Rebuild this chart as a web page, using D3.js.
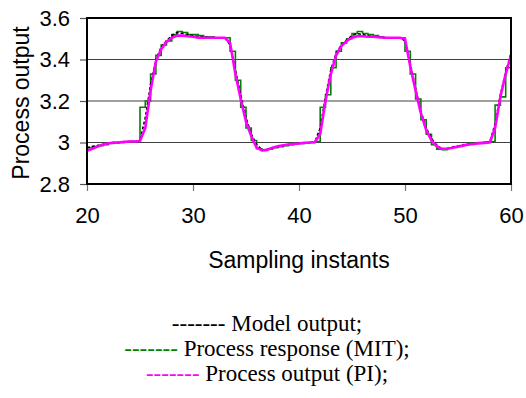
<!DOCTYPE html>
<html>
<head>
<meta charset="utf-8">
<script src="https://cdn.jsdelivr.net/npm/d3@7"></script>
<style>
  html, body { margin: 0; padding: 0; background: #fff; }
  svg { display: block; }
</style>
</head>
<body>
<svg id="chart" width="526" height="398"></svg>
<script>
// Sampling instants, half-step resolution from 20 to 60
const instants = d3.range(20, 60.001, 0.5);

// Model output
const modelOutput = [
  2.975, 2.98, 2.985, 2.99, 2.995, 3.0, 3.0, 3.003, 3.005, 3.005,
  3.01, 3.12, 3.28, 3.40, 3.46, 3.49, 3.515, 3.53, 3.525, 3.52,
  3.515, 3.51, 3.51, 3.505, 3.505, 3.505, 3.505, 3.47, 3.35, 3.23,
  3.12, 3.04, 2.99, 2.965, 2.965, 2.975, 2.98, 2.985, 2.99, 2.993,
  2.996, 2.998, 3.0, 3.003, 3.07, 3.22, 3.35, 3.43, 3.47, 3.495,
  3.515, 3.525, 3.52, 3.515, 3.51, 3.508, 3.505, 3.505, 3.505, 3.505,
  3.49, 3.38, 3.26, 3.15, 3.07, 3.02, 2.985, 2.97, 2.97, 2.978,
  2.983, 2.988, 2.992, 2.995, 2.998, 3.0, 3.002, 3.09, 3.23, 3.34,
  3.43
];

// Process response under MIT-rule adaptation (held between samples)
const processMIT = [
  2.975, 2.98, 2.985, 2.99, 2.995, 2.998, 3.0, 3.002, 3.004, 3.005,
  3.17, 3.20, 3.33, 3.42, 3.47, 3.49, 3.52, 3.535, 3.53, 3.52,
  3.52, 3.515, 3.51, 3.51, 3.505, 3.505, 3.505, 3.44, 3.30, 3.17,
  3.07, 3.01, 2.97, 2.962, 2.968, 2.975, 2.98, 2.985, 2.99, 2.995,
  2.995, 2.998, 3.0, 3.005, 3.17, 3.23, 3.36, 3.44, 3.48, 3.50,
  3.525, 3.535, 3.525, 3.52, 3.515, 3.51, 3.505, 3.505, 3.505, 3.505,
  3.44, 3.33, 3.21, 3.11, 3.04, 2.99, 2.968, 2.965, 2.972, 2.978,
  2.984, 2.99, 2.995, 2.998, 3.0, 3.002, 3.005, 3.18, 3.22, 3.36,
  3.46
];

// Process output under PI control
const processPI = [
  2.96, 2.97, 2.98, 2.99, 2.995, 3.0, 3.0, 3.003, 3.005, 3.005,
  3.007, 3.07, 3.25, 3.39, 3.45, 3.485, 3.505, 3.515, 3.515, 3.512,
  3.51, 3.505, 3.505, 3.505, 3.505, 3.505, 3.505, 3.48, 3.33, 3.21,
  3.10, 3.03, 2.975, 2.962, 2.965, 2.975, 2.982, 2.987, 2.99, 2.993,
  2.995, 2.998, 3.0, 3.002, 3.04, 3.20, 3.33, 3.42, 3.465, 3.49,
  3.505, 3.512, 3.512, 3.51, 3.51, 3.507, 3.505, 3.505, 3.505, 3.505,
  3.50, 3.365, 3.25, 3.14, 3.06, 3.01, 2.98, 2.97, 2.97, 2.975,
  2.98, 2.985, 2.99, 2.993, 2.996, 2.998, 3.0, 3.07, 3.22, 3.33,
  3.42
];

const xTicks = [20, 30, 40, 50, 60];
const yTicks = [2.8, 3.0, 3.2, 3.4, 3.6];
const yTickLabels = ["2.8", "3", "3.2", "3.4", "3.6"];
const gridValues = [3.0, 3.2, 3.4];

const legendItems = [
  { dash: "-------", text: " Model output;", color: "#000000" },
  { dash: "-------", text: " Process response (MIT);", color: "#008000" },
  { dash: "-------", text: " Process output (PI);", color: "#ff00ff" }
];

const svg = d3.select("#chart");
const plot = { left: 87, right: 511, top: 18, bottom: 184 };

const x = d3.scaleLinear().domain([20, 60]).range([plot.left, plot.right]);
const y = d3.scaleLinear().domain([2.8, 3.6]).range([plot.bottom, plot.top]);

const sans = "'Liberation Sans', Arial, sans-serif";
const serif = "'Liberation Serif', 'Times New Roman', serif";

// Horizontal gridlines
svg.append("g")
  .selectAll("line")
  .data(gridValues)
  .join("line")
  .attr("x1", plot.left).attr("x2", plot.right)
  .attr("y1", d => y(d)).attr("y2", d => y(d))
  .attr("stroke", "#404040").attr("stroke-width", 1.2);

// Y axis ticks and labels
const yAxis = svg.append("g")
  .attr("transform", `translate(${plot.left},0)`)
  .call(d3.axisLeft(y).tickValues(yTicks)
    .tickFormat((d, i) => yTickLabels[i]).tickSize(7).tickPadding(10));
yAxis.select(".domain").remove();
yAxis.selectAll(".tick line").attr("stroke", "#555").attr("stroke-width", 1.2);
yAxis.selectAll(".tick text")
  .attr("font-family", sans).attr("font-size", 22).attr("fill", "#000");

// X axis ticks and labels
const xAxis = svg.append("g")
  .attr("transform", `translate(0,${plot.bottom})`)
  .call(d3.axisBottom(x).tickValues(xTicks).tickSize(7).tickPadding(16));
xAxis.select(".domain").remove();
xAxis.selectAll(".tick line").attr("stroke", "#777").attr("stroke-width", 1.2);
xAxis.selectAll(".tick text")
  .attr("font-family", sans).attr("font-size", 22).attr("fill", "#000");

svg.append("clipPath").attr("id", "plotClip")
  .append("rect")
  .attr("x", plot.left).attr("y", plot.top - 4)
  .attr("width", plot.right - plot.left).attr("height", plot.bottom - plot.top + 8);

const stepLine = d3.line()
  .x((d, i) => x(instants[i]))
  .y(d => y(d))
  .curve(d3.curveStepAfter);

const smoothLine = d3.line()
  .x((d, i) => x(instants[i]))
  .y(d => y(d));

const lines = svg.append("g").attr("clip-path", "url(#plotClip)");

lines.append("path")
  .datum(processMIT)
  .attr("d", stepLine)
  .attr("fill", "none")
  .attr("stroke", "#008000")
  .attr("stroke-width", 1.6);

lines.append("path")
  .datum(modelOutput)
  .attr("d", smoothLine)
  .attr("fill", "none")
  .attr("stroke", "#000")
  .attr("stroke-width", 1.6)
  .attr("stroke-dasharray", "3,2");

lines.append("path")
  .datum(processPI)
  .attr("d", smoothLine)
  .attr("fill", "none")
  .attr("stroke", "#ff00ff")
  .attr("stroke-width", 2.6)
  .attr("stroke-linejoin", "round");

// Plot frame
svg.append("rect")
  .attr("x", plot.left).attr("y", plot.top)
  .attr("width", plot.right - plot.left).attr("height", plot.bottom - plot.top)
  .attr("fill", "none").attr("stroke", "#000").attr("stroke-width", 2);

// Axis titles
svg.append("text")
  .attr("x", (plot.left + plot.right) / 2).attr("y", 268)
  .attr("text-anchor", "middle")
  .attr("font-family", sans).attr("font-size", 23)
  .text("Sampling instants");

svg.append("text")
  .attr("transform", `translate(29,${(plot.top + plot.bottom) / 2 + 2}) rotate(-90)`)
  .attr("text-anchor", "middle")
  .attr("font-family", sans).attr("font-size", 23)
  .text("Process output");

// Legend as centred lines of text with coloured dash runs
const legend = svg.append("g")
  .attr("font-family", serif).attr("font-size", 23);

legend.selectAll("text")
  .data(legendItems)
  .join("text")
  .attr("x", 267)
  .attr("y", (d, i) => 331 + i * 25)
  .attr("text-anchor", "middle")
  .each(function(d) {
    const t = d3.select(this);
    t.append("tspan").attr("fill", d.color).text(d.dash);
    t.append("tspan").attr("fill", "#000").text(d.text);
  });
</script>
</body>
</html>
